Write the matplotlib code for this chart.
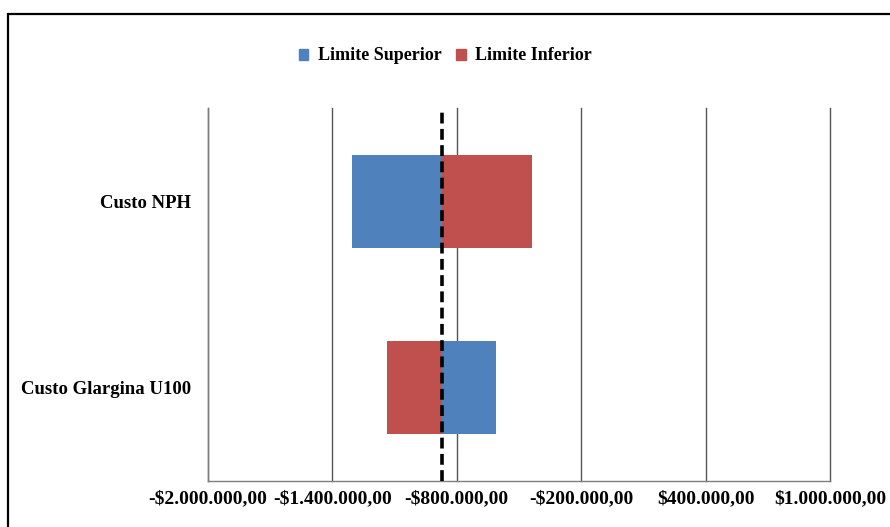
import matplotlib
matplotlib.use("Agg")
import matplotlib.pyplot as plt
from matplotlib.patches import Rectangle, Patch
from matplotlib.ticker import FuncFormatter

# Tornado diagram data (values in R$)
categories = ["Custo Glargina U100", "Custo NPH"]
baseline = -873500
limite_superior = [-611000, -1307000]
limite_inferior = [-1135000, -438000]
xticks = [-2000000, -1400000, -800000, -200000, 400000, 1000000]

color_sup = "#4F81BD"
color_inf = "#C0504D"

plt.rcParams["font.family"] = ["Liberation Serif", "DejaVu Serif"]
plt.rcParams["font.weight"] = "bold"

fig = plt.figure(figsize=(8.9, 5.27), dpi=100)
ax = fig.add_axes([208 / 890, 1 - 481 / 527, (830 - 208) / 890, (481 - 108) / 527])

ypos = list(range(len(categories)))
ax.barh(ypos, [v - baseline for v in limite_superior], left=baseline,
        height=0.5, color=color_sup, zorder=3)
ax.barh(ypos, [v - baseline for v in limite_inferior], left=baseline,
        height=0.5, color=color_inf, zorder=3)
ax.axvline(baseline, color="black", lw=2.6, dashes=(3.0, 1.5), zorder=4)

ax.set_xlim(xticks[0], xticks[-1])
ax.set_ylim(-0.5, len(categories) - 0.5)
ax.set_xticks(xticks)


def brl(v, _pos):
    s = f"{abs(v):,.2f}".replace(",", "X").replace(".", ",").replace("X", ".")
    return ("-" if v < 0 else "") + "$" + s


ax.xaxis.set_major_formatter(FuncFormatter(brl))
ax.set_yticks(ypos)
ax.set_yticklabels(categories)
ax.tick_params(axis="x", length=0, labelsize=14, pad=7)
ax.tick_params(axis="y", length=0, labelsize=13.5, pad=12)
for lbl in ax.get_xticklabels() + ax.get_yticklabels():
    lbl.set_fontweight("bold")

ax.grid(axis="x", color="#555555", lw=1, zorder=0)
for line in ax.get_xgridlines():
    line.set_clip_on(False)
for side in ["top", "right"]:
    ax.spines[side].set_visible(False)
for side in ["left", "bottom"]:
    ax.spines[side].set_color("#7f7f7f")
    ax.spines[side].set_linewidth(1)

handles = [Patch(color=color_sup, label="Limite Superior"),
           Patch(color=color_inf, label="Limite Inferior")]
fig.legend(handles=handles, loc="center", bbox_to_anchor=(445 / 890, 1 - 56 / 527),
           ncol=2, frameon=False, handlelength=0.55, handleheight=0.55,
           handletextpad=0.5, columnspacing=0.8,
           prop={"family": "Liberation Serif", "weight": "bold", "size": 13})

# Outer chart border
fig.patches.append(Rectangle((8 / 890, -0.1), 1.2, 1 - 13.5 / 527 + 0.1,
                             transform=fig.transFigure, fill=False,
                             edgecolor="black", lw=1.6))

fig.savefig("out.png", dpi=100)
